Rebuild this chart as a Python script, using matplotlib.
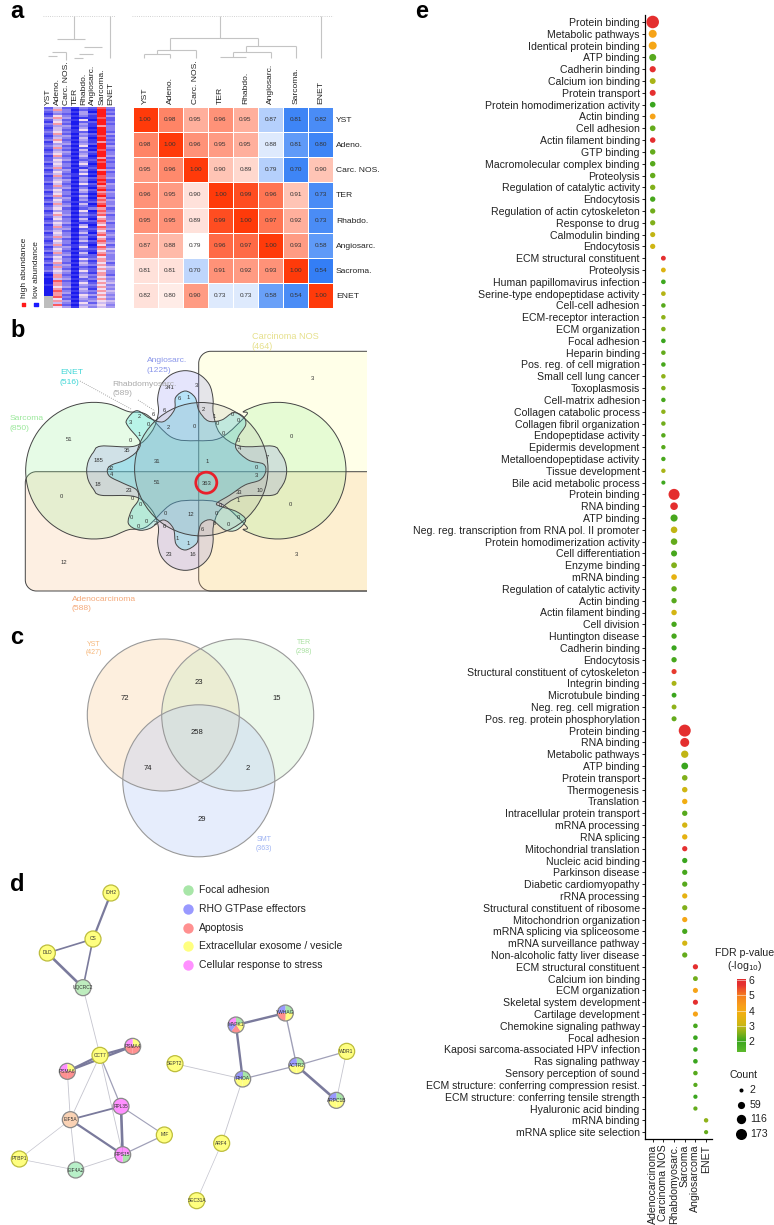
import numpy as np
import matplotlib
matplotlib.use("Agg")
import matplotlib.pyplot as plt
from matplotlib.colors import LinearSegmentedColormap, Normalize
from matplotlib.cm import ScalarMappable
from matplotlib.patches import Circle, PathPatch, Wedge
from matplotlib.path import Path

plt.rcParams['font.family'] = ['Liberation Sans', 'DejaVu Sans']

W, H = 774, 1225
TXT = '#222222'

# ---------- panel a data ----------
tumours_short = ['YST', 'Adeno.', 'Carc. NOS.', 'TER', 'Rhabdo.', 'Angiosarc.', 'Sarcoma.', 'ENET']
corr_rows = ['YST', 'Adeno.', 'Carc. NOS.', 'TER', 'Rhabdo.', 'Angiosarc.', 'Sacroma.', 'ENET']
corr_values = [
    [1.00, 0.98, 0.95, 0.96, 0.95, 0.87, 0.81, 0.82],
    [0.98, 1.00, 0.96, 0.95, 0.95, 0.88, 0.81, 0.80],
    [0.95, 0.96, 1.00, 0.90, 0.89, 0.79, 0.70, 0.90],
    [0.96, 0.95, 0.90, 1.00, 0.99, 0.96, 0.91, 0.73],
    [0.95, 0.95, 0.89, 0.99, 1.00, 0.97, 0.92, 0.73],
    [0.87, 0.88, 0.79, 0.96, 0.97, 1.00, 0.93, 0.58],
    [0.81, 0.81, 0.70, 0.91, 0.92, 0.93, 1.00, 0.54],
    [0.82, 0.80, 0.90, 0.73, 0.73, 0.58, 0.54, 1.00],
]
# colour level of each cell (scaled per column there)
corr_shade = [
    [1.00, 0.62, 0.40, 0.55, 0.40, -0.35, -0.90, -0.85],
    [0.62, 1.00, 0.55, 0.50, 0.40, -0.15, -0.75, -0.90],
    [0.50, 0.60, 1.00, 0.30, 0.20, -0.35, -0.90, 0.30],
    [0.55, 0.50, 0.15, 1.00, 0.90, 0.70, 0.30, -0.85],
    [0.55, 0.55, 0.15, 0.90, 1.00, 0.70, 0.40, -0.85],
    [0.40, 0.35, 0.00, 0.75, 0.75, 1.00, 0.50, -0.75],
    [0.15, 0.15, -0.30, 0.55, 0.50, 0.55, 1.00, -0.95],
    [0.15, 0.10, 0.50, -0.15, -0.15, -0.70, -0.85, 1.00],
]
# abundance heatmap, one string per protein row, 0 = low ... 9 = high, - = missing
abundance_rows = [
    "25213283", "37302192", "24314093", "13204292", "26313194", "47401182", "25216092", "16302293",
    "37204192", "24413173", "15304093", "25216193", "36312092", "27204294", "14413182", "25305093",
    "37214192", "16303173", "24414292", "35206094", "27312193", "14205082", "25413293", "36304193",
    "17215094", "24303172", "26412293", "35204182", "16316093", "25303193", "37211292", "14405174",
    "26303092", "35216193", "17312083", "24204284", "25414192", "36303082", "15216294", "27302173",
    "24413083", "36205292", "15314174", "26302083", "37215193", "14403072", "26304184", "35212273",
    "17305083", "25413194", "36202372", "14316083", "26303174", "37414282", "25202163", "16315073",
    "24303284", "36411172", "15204063", "27316183", "24402274", "35203162", "16315073", "25302284",
    "37414163", "24203072", "16315283", "25302174", "37213062", "14416183", "26303275", "35212163",
    "17305074", "24413283", "36202263", "15316373", "26303174", "37215262", "14404373", "27312165",
    "25203274", "36416263", "15303173", "07214372", "17305264", "05412373", "08203164", "07316275",
    "17304363", "06413274", "07205163", "08314375", "07403264", "07216473", "-8305264", "-6214373",
    "-7403465", "-5316254", "-8204463", "-6415354",
]

# ---------- panel b data ----------
venn6_counts = ['3', '341', '3', '6', '1', '6', '2', '2', '6', '3', '0', '1', '2', '0', '1', '0', '0', '0', '0', '0',
                '51', '0', '35', '0', '4', '7', '185', '31', '1', '32', '4', '0', '3', '18', '51', '363', '23', '33',
                '10', '0', '1', '0', '0', '0', '0', '0', '12', '0', '0', '0', '0', '2', '6', '0', '0', '0', '6', '1',
                '1', '23', '16', '3', '12']
venn6_sets = ['Carcinoma NOS', 'Angiosarc.', 'ENET', 'Rhabdomyosarc.', 'Sarcoma', 'Adenocarcinoma']
venn6_sizes = ['(464)', '(1225)', '(516)', '(589)', '(850)', '(588)']

# ---------- panel c data ----------
venn3_sets = ['YST', 'TER', 'SMT']
venn3_sizes = ['(427)', '(298)', '(363)']
venn3_counts = ['72', '23', '15', '258', '74', '2', '29']

# ---------- panel d data ----------
pathways = ['Focal adhesion', 'RHO GTPase effectors', 'Apoptosis', 'Extracellular exosome / vesicle',
            'Cellular response to stress']
edges = [('IDH2', 'CS', 1.6), ('CS', 'DLD', 1.2), ('CS', 'UQCRC2', 1.2), ('DLD', 'UQCRC2', 1.9),
         ('UQCRC2', 'CCT7', 0.6), ('CCT7', 'PSMA4', 1.6), ('PSMA6', 'PSMA4', 1.6), ('CCT7', 'PSMA6', 1.6),
         ('CCT7', 'RPL35', 0.9), ('CCT7', 'EIF5A', 0.6), ('CCT7', 'RPS15', 0.6), ('PSMA6', 'EIF5A', 0.6),
         ('EIF5A', 'RPL35', 1.3), ('EIF5A', 'RPS15', 1.6), ('EIF5A', 'EIF4A2', 0.6), ('EIF5A', 'PTBP1', 0.5),
         ('PTBP1', 'EIF4A2', 0.5), ('EIF4A2', 'RPS15', 0.6), ('RPL35', 'RPS15', 1.9), ('RPL35', 'MIF', 0.8),
         ('RPS15', 'MIF', 0.9), ('SEPT2', 'RHOA', 0.6), ('RHOA', 'MAPK1', 1.7), ('MAPK1', 'YWHAG', 1.7),
         ('YWHAG', 'ACTR2', 1.0), ('RHOA', 'ACTR2', 0.9), ('ACTR2', 'WDR1', 0.9), ('ACTR2', 'ARPC1B', 1.9),
         ('WDR1', 'ARPC1B', 0.6), ('RHOA', 'ARF4', 0.6), ('ARF4', 'SEC31A', 0.5)]

# ---------- panel e data ----------
dot_columns = ['Adenocarcinoma', 'Carcinoma NOS', 'Rhabdomyosarc.', 'Sarcoma', 'Angiosarcoma', 'ENET']
terms_adeno = ['Protein binding', 'Metabolic pathways', 'Identical protein binding', 'ATP binding', 'Cadherin binding',
               'Calcium ion binding', 'Protein transport', 'Protein homodimerization activity', 'Actin binding',
               'Cell adhesion', 'Actin filament binding', 'GTP binding', 'Macromolecular complex binding',
               'Proteolysis', 'Regulation of catalytic activity', 'Endocytosis', 'Regulation of actin cytoskeleton',
               'Response to drug', 'Calmodulin binding', 'Endocytosis']
fdr_adeno = [5.9, 4.2, 4.1, 2.2, 5.7, 2.8, 5.7, 2.0, 4.2, 2.3, 5.8, 2.3, 2.2, 2.3, 2.5, 2.1, 2.4, 2.5, 3.0, 3.1]
count_adeno = [230, 79, 79, 55, 38, 32, 34, 28, 30, 28, 25, 24, 24, 24, 22, 22, 20, 20, 18, 20]

terms_nos = ['ECM structural constituent', 'Proteolysis', 'Human papillomavirus infection',
             'Serine-type endopeptidase activity', 'Cell-cell adhesion', 'ECM-receptor interaction', 'ECM organization',
             'Focal adhesion', 'Heparin binding', 'Pos. reg. of cell migration', 'Small cell lung cancer',
             'Toxoplasmosis', 'Cell-matrix adhesion', 'Collagen catabolic process', 'Collagen fibril organization',
             'Endopeptidase activity', 'Epidermis development', 'Metalloendopeptidase activity', 'Tissue development',
             'Bile acid metabolic process']
fdr_nos = [5.8, 3.4, 1.9, 2.9, 2.2, 2.6, 2.5, 2.0, 2.3, 2.1, 2.6, 2.5, 2.1, 2.6, 2.4, 2.2, 2.2, 2.1, 2.8, 1.9]
count_nos = [14, 13, 11, 11, 9, 9, 9, 10, 9, 9, 9, 9, 8, 8, 8, 8, 7, 7, 7, 3]

terms_rhabdo = ['Protein binding', 'RNA binding', 'ATP binding', 'Neg. reg. transcription from RNA pol. II promoter',
                'Protein homodimerization activity', 'Cell differentiation', 'Enzyme binding', 'mRNA binding',
                'Regulation of catalytic activity', 'Actin binding', 'Actin filament binding', 'Cell division',
                'Huntington disease', 'Cadherin binding', 'Endocytosis', 'Structural constituent of cytoskeleton',
                'Integrin binding', 'Microtubule binding', 'Neg. reg. cell migration', 'Pos. reg. protein phosphorylation']
fdr_rhabdo = [5.9, 5.8, 2.1, 3.0, 2.3, 2.1, 2.5, 3.6, 2.3, 2.2, 3.2, 2.1, 2.1, 2.0, 2.1, 5.6, 2.8, 2.0, 2.6, 2.3]
count_rhabdo = [173, 70, 58, 45, 45, 35, 30, 28, 24, 22, 24, 22, 22, 20, 22, 18, 16, 14, 15, 17]

terms_sarcoma = ['Protein binding', 'RNA binding', 'Metabolic pathways', 'ATP binding', 'Protein transport',
                 'Thermogenesis', 'Translation', 'Intracellular protein transport', 'mRNA processing', 'RNA splicing',
                 'Mitochondrial translation', 'Nucleic acid binding', 'Parkinson disease', 'Diabetic cardiomyopathy',
                 'rRNA processing', 'Structural constituent of ribosome', 'Mitochondrion organization',
                 'mRNA splicing via spliceosome', 'mRNA surveillance pathway', 'Non-alcoholic fatty liver disease']
fdr_sarcoma = [5.9, 5.8, 3.0, 2.0, 2.5, 3.1, 3.9, 2.2, 3.2, 3.6, 5.7, 2.0, 2.1, 2.2, 3.6, 2.5, 4.1, 2.1, 3.2, 2.3]
count_sarcoma = [208, 106, 62, 50, 26, 24, 22, 22, 22, 22, 20, 20, 20, 20, 20, 20, 20, 20, 20, 20]

terms_angio = ['ECM structural constituent', 'Calcium ion binding', 'ECM organization', 'Skeletal system development',
               'Cartilage development', 'Chemokine signaling pathway', 'Focal adhesion',
               'Kaposi sarcoma-associated HPV infection', 'Ras signaling pathway', 'Sensory perception of sound',
               'ECM structure: conferring compression resist.', 'ECM structure: conferring tensile strength',
               'Hyaluronic acid binding']
fdr_angio = [5.8, 2.4, 4.2, 5.8, 4.2, 2.1, 2.0, 2.0, 2.0, 2.2, 2.2, 2.0, 2.3]
count_angio = [20, 14, 18, 18, 18, 10, 10, 9, 10, 9, 5, 5, 5]

terms_enet = ['mRNA binding', 'mRNA splice site selection']
fdr_enet = [2.6, 2.3]
count_enet = [8, 4]

count_legend = [2, 59, 116, 173]
fdr_ticks = [2, 3, 4, 5, 6]


def px_axes(x, y, w, h, **kw):
    return fig.add_axes([x / W, 1 - (y + h) / H, w / W, h / H], **kw)


def dot_area(count):
    # area grows linear with count, given in pt^2 (fitted to the count legend)
    d2 = 15 + 0.62 * np.asarray(count, dtype=float)
    return d2 * 0.72 ** 2


def smooth_closed(pts):
    # closed Catmull-Rom curve through the points
    pts = np.asarray(pts, dtype=float)
    n = len(pts)
    verts = [pts[0]]
    codes = [Path.MOVETO]
    for i in range(n):
        p0, p1, p2, p3 = pts[(i - 1) % n], pts[i], pts[(i + 1) % n], pts[(i + 2) % n]
        verts += [p1 + (p2 - p0) / 6, p2 - (p3 - p1) / 6, p2]
        codes += [Path.CURVE4] * 3
    return Path(verts, codes)


def arc(cx, cy, r, a0, a1, n=10):
    t = np.radians(np.linspace(a0, a1, n))
    return [(cx + r * np.cos(v), cy + r * np.sin(v)) for v in t]


def open_box(x, top, right, bottom, r):
    k = r * 0.45
    verts = [(right, top), (x + r, top), (x + k, top), (x, top + k), (x, top + r),
             (x, bottom - r), (x, bottom - k), (x + k, bottom), (x + r, bottom), (right, bottom)]
    codes = [Path.MOVETO, Path.LINETO, Path.CURVE4, Path.CURVE4, Path.CURVE4,
             Path.LINETO, Path.CURVE4, Path.CURVE4, Path.CURVE4, Path.LINETO]
    return Path(verts, codes)


fig = plt.figure(figsize=(W / 100, H / 100), dpi=100)
page = fig.add_axes([0, 0, 1, 1])
page.set_xlim(0, W)
page.set_ylim(H, 0)
page.axis('off')

for letter, lx, ly in [('a', 10, 18), ('b', 10, 337), ('c', 10, 644), ('d', 10, 891), ('e', 415, 18)]:
    page.text(lx, ly, letter, fontsize=17, fontweight='bold', color='black', va='baseline')

# ---------- a: abundance heatmap ----------
abundance = np.array([[np.nan if c == '-' else int(c) / 9 for c in row] for row in abundance_rows])
bwr = LinearSegmentedColormap.from_list('abund', ['#1A1AEE', '#8A80F0', '#F2DCF0', '#FF1A1A'])
bwr.set_bad('#BDBDBD')
ax_abund = px_axes(44.3, 107, 70.7, 201)
ax_abund.imshow(abundance, cmap=bwr, vmin=0, vmax=1, aspect='auto', interpolation='nearest')
ax_abund.set_xticks(range(8))
ax_abund.set_xticklabels(tumours_short, rotation=90, fontsize=6.1, color=TXT)
ax_abund.xaxis.tick_top()
ax_abund.tick_params(length=0, pad=1.5)
ax_abund.set_yticks([])
for s in ax_abund.spines.values():
    s.set_visible(False)

# ---------- a: correlation matrix ----------
corr_cmap = LinearSegmentedColormap.from_list('corr', ['#2A78F5', '#FFFFFF', '#FF3A0A'])
ax_corr = px_axes(132.7, 107, 200.5, 201)
ax_corr.pcolormesh(np.array(corr_shade), cmap=corr_cmap, vmin=-1, vmax=1, edgecolors='#FFFFFF', linewidth=0.5, alpha=1)
ax_corr.set_xlim(0, 8)
ax_corr.set_ylim(8, 0)
for i, row in enumerate(corr_values):
    for j, v in enumerate(row):
        ax_corr.text(j + 0.5, i + 0.5, f'{v:.2f}', ha='center', va='center', fontsize=4.6, color='#333333')
ax_corr.set_xticks(np.arange(8) + 0.5)
ax_corr.set_xticklabels(tumours_short, rotation=90, fontsize=6.1, color=TXT)
ax_corr.xaxis.tick_top()
ax_corr.yaxis.tick_right()
ax_corr.set_yticks(np.arange(8) + 0.5)
ax_corr.set_yticklabels(corr_rows, fontsize=6.1, color=TXT)
ax_corr.tick_params(length=0, pad=2)
for s in ax_corr.spines.values():
    s.set_visible(False)

# dendrograms, segments in page pixels
GREY = '#C4C4C4'
page.plot([43, 115], [16, 16], color=GREY, lw=0.6, ls=':')
page.plot([132, 333], [16, 16], color=GREY, lw=0.6, ls=':')
tree_right = [((220, 16), (220, 38)), ((170, 38), (258, 38)), ((170, 38), (170, 50)), ((157, 50), (196, 50)),
              ((157, 50), (157, 54)), ((144, 54), (170, 54)), ((144, 54), (144, 58)), ((170, 54), (170, 58)),
              ((196, 50), (196, 58)), ((258, 38), (258, 46)), ((246, 46), (296, 46)), ((296, 46), (296, 58)),
              ((246, 46), (246, 52)), ((233, 52), (271, 52)), ((271, 52), (271, 58)), ((233, 52), (233, 57)),
              ((220, 57), (246, 57)), ((321, 16), (321, 58))]
tree_left = [((74, 16), (74, 39)), ((57, 39), (85, 39)), ((84, 47), (102, 47)), ((52, 52), (66, 52)),
             ((66, 52), (66, 60)), ((79, 54), (93, 54)), ((48, 56), (57, 56)), ((74, 58), (83, 58)),
             ((110, 16), (110, 58))]
for a, b in tree_right + tree_left:
    page.plot([a[0], b[0]], [a[1], b[1]], color=GREY, lw=0.8, solid_capstyle='butt')

page.scatter([23.5, 36], [304.5, 304.5], s=7, marker='s', c=['#FF1A1A', '#1A1AFF'])
page.text(24, 298, 'high abundance', rotation=90, fontsize=6, color=TXT, ha='center', va='bottom')
page.text(36, 298, 'low abundance', rotation=90, fontsize=6, color=TXT, ha='center', va='bottom')

# ---------- b: six set venn ----------
B = np.array([0, 320])
LINE = '#444444'
carcinoma = open_box(198.7, 351.3, 367, 591, 12)
adeno = open_box(25.3, 471.7, 367, 591, 11)
page.add_patch(PathPatch(carcinoma, facecolor='#FFFF90', alpha=0.2, lw=0))
page.add_patch(PathPatch(carcinoma, fill=False, edgecolor=LINE, lw=0.7))
page.add_patch(PathPatch(adeno, facecolor='#F8B070', alpha=0.2, lw=0))
page.add_patch(PathPatch(adeno, fill=False, edgecolor=LINE, lw=0.7))

sarcoma_pts = (arc(282, 452, 205, 300, 60, 15) +
               [(440, 620), (515, 552), (590, 541), (665, 552), (740, 620)] +
               arc(833, 452, 205, 120, -120, 15) +
               [(740, 284), (665, 352), (590, 362), (515, 352), (440, 284)])
angio_pts = (arc(556, 235, 83, 180, 360, 7) +
             [(640, 280), (660, 340), (720, 378)] +
             arc(775, 452, 85, -60, 60, 7) +
             [(720, 530), (660, 570), (640, 620)] +
             arc(556, 668, 83, 0, 180, 7) +
             [(475, 620), (455, 570), (405, 530)] +
             arc(345, 452, 85, 120, 240, 7) +
             [(405, 378), (455, 335), (475, 280)])
enet_pts = [(556, 213), (585, 232), (597, 272), (625, 303), (665, 300), (700, 278), (730, 290), (737, 315), (715, 350),
            (708, 385), (745, 420), (790, 432), (797, 455), (780, 480), (735, 495), (690, 525), (650, 550), (665, 560),
            (710, 575), (737, 600), (710, 630), (675, 630), (635, 600), (605, 610), (595, 640), (590, 670), (556, 690),
            (528, 672), (520, 625), (490, 600), (450, 625), (415, 630), (385, 610), (395, 570), (415, 540), (410, 510),
            (370, 490), (330, 470), (322, 450), (335, 435), (375, 420), (410, 395), (420, 365), (385, 320), (380, 300),
            (410, 272), (450, 295), (490, 305), (523, 270), (527, 232)]
for pts, col, a in [(sarcoma_pts, '#90EE90', 0.22), (angio_pts, '#7070F0', 0.18), (enet_pts, '#30E0F0', 0.25)]:
    path = smooth_closed(np.array(pts) / 3 + B)
    page.add_patch(PathPatch(path, facecolor=col, alpha=a, lw=0))
    page.add_patch(PathPatch(path, fill=False, edgecolor=LINE, lw=0.7))
page.add_patch(Circle((201.3, 469.2), 66.7, facecolor='#808080', alpha=0.12, lw=0))
page.add_patch(Circle((201.3, 469.2), 66.7, fill=False, edgecolor=LINE, lw=0.7))

page.plot([80, 131], [381, 409], color='#888888', lw=0.6, ls=':')
page.plot([138, 155], [400, 411], color='#888888', lw=0.6, ls=':')

venn6_count_xy = [(936, 176), (510, 203), (588, 197), (538, 236), (564, 233), (492, 272), (609, 268), (418, 288),
                  (460, 285), (391, 307), (446, 312), (417, 343), (504, 323), (583, 318), (643, 288), (697, 284),
                  (652, 311), (716, 303), (670, 340), (875, 348), (208, 358), (391, 363), (380, 393), (714, 362),
                  (720, 385), (803, 412), (294, 420), (470, 424), (621, 424), (333, 444), (333, 463), (770, 443),
                  (770, 466), (295, 495), (470, 488), (619, 490), (388, 511), (717, 516), (780, 510), (398, 537),
                  (714, 540), (185, 531), (870, 554), (420, 555), (660, 557), (497, 580), (574, 582), (650, 580),
                  (394, 593), (714, 593), (440, 605), (466, 610), (492, 621), (415, 618), (642, 610), (685, 615),
                  (607, 628), (531, 655), (565, 670), (507, 702), (580, 702), (889, 703), (191, 726)]
for txt, (zx, zy) in zip(venn6_counts, venn6_count_xy):
    page.text(zx / 3, 320 + zy / 3, txt, fontsize=4.2, color='#333333', ha='center', va='center')
page.add_patch(Circle((206.3, 482.7), 10.5, fill=False, edgecolor='#E8202A', lw=2))

venn6_label_xy = [(755, 50), (440, 122), (180, 158), (338, 192), (28, 297), (215, 838)]
venn6_label_col = ['#E6E08C', '#8A96EA', '#3FD6D6', '#AAAAAA', '#9BE89B', '#F4A878']
venn6_label_fs = [6.6, 6.1, 6.1, 6.1, 6.1, 6.1]
for name, size, (zx, zy), col, fs in zip(venn6_sets, venn6_sizes, venn6_label_xy, venn6_label_col, venn6_label_fs):
    page.text(zx / 3, 320 + zy / 3, name, fontsize=fs, color=col, va='center')
    page.text(zx / 3, 320 + (zy + 29) / 3, size, fontsize=fs, color=col, va='center')

# ---------- c: three set venn ----------
venn3_circles = [((163.3, 715), '#FBD09A'), ((237.7, 715), '#C6EBBE'), ((198.8, 780.8), '#B4C8F8')]
for (cxy, col) in venn3_circles:
    page.add_patch(Circle(cxy, 76, facecolor=col, alpha=0.32, lw=0))
for (cxy, col) in venn3_circles:
    page.add_patch(Circle(cxy, 76, fill=False, edgecolor='#999999', lw=0.8))
venn3_count_xy = [(374, 237), (595, 188), (830, 234), (592, 336), (445, 445), (744, 445), (606, 598)]
for txt, (zx, zy) in zip(venn3_counts, venn3_count_xy):
    page.text(zx / 3, 620 + zy / 3, txt, fontsize=5.5, color=TXT, ha='center', va='center')
venn3_label_xy = [(280, 72), (912, 68), (792, 658)]
venn3_label_col = ['#F6B77A', '#A8E0A0', '#9DB2F2']
for name, size, (zx, zy), col in zip(venn3_sets, venn3_sizes, venn3_label_xy, venn3_label_col):
    page.text(zx / 3, 620 + zy / 3, name, fontsize=5, color=col, ha='center', va='center')
    page.text(zx / 3, 620 + (zy + 27) / 3, size, fontsize=5, color=col, ha='center', va='center')

# ---------- d: network ----------
YEL, GRN, BLU, RED, MAG = '#FFFF80', '#A8E6A8', '#9999FF', '#FF9090', '#FF90FF'
node_xy = {'IDH2': (333, 69), 'CS': (279, 207), 'DLD': (142, 249), 'UQCRC2': (249, 353), 'CCT7': (300, 556),
           'PSMA4': (398, 529), 'PSMA6': (202, 604), 'RPL35': (363, 709), 'EIF5A': (211, 749), 'MIF': (493, 795),
           'RPS15': (368, 854), 'EIF4A2': (227, 900), 'PTBP1': (58, 867), 'SEPT2': (525, 581), 'RHOA': (728, 627),
           'ACTR2': (890, 587), 'ARPC1B': (1009, 691), 'WDR1': (1040, 544), 'YWHAG': (856, 429), 'MAPK1': (708, 465),
           'ARF4': (665, 820), 'SEC31A': (590, 992)}
# slices start at the top and go clockwise
node_slices = {'UQCRC2': ['#BEEDBE'], 'EIF4A2': ['#B8F0C8'], 'EIF5A': ['#FAD2B4'], 'RPL35': [MAG],
               'PSMA4': [YEL, RED, RED, MAG], 'PSMA6': [YEL, RED, RED, MAG],
               'RPS15': [MAG, GRN, MAG, MAG], 'RHOA': [GRN, YEL, YEL, BLU], 'ACTR2': [GRN, YEL, YEL, BLU],
               'ARPC1B': [GRN, YEL, YEL, BLU], 'YWHAG': [GRN, YEL, RED, BLU],
               'MAPK1': [GRN, YEL, RED, BLU, MAG]}
page_d = np.array([0, 870])
for a, b, lw in edges:
    pa = np.array(node_xy[a]) / 3 + page_d
    pb = np.array(node_xy[b]) / 3 + page_d
    col = '#7A7A9C' if lw >= 1.2 else ('#A0A0B8' if lw >= 0.8 else '#C4C4CE')
    page.plot([pa[0], pb[0]], [pa[1], pb[1]], color=col, lw=lw, solid_capstyle='round', zorder=3)
for name, zxy in node_xy.items():
    cxy = np.array(zxy) / 3 + page_d
    slices = node_slices.get(name, [YEL])
    n = len(slices)
    for k, col in enumerate(slices):
        # y axis of the page runs down, so clockwise from the top is increasing angle from -90
        page.add_patch(Wedge(cxy, 8, -90 + 360 * k / n, -90 + 360 * (k + 1) / n, facecolor=col, lw=0, zorder=4))
    rim = '#BDBD3C' if slices == [YEL] else '#8A8A8A'
    page.add_patch(Circle(cxy, 8, fill=False, edgecolor=rim, lw=0.9, zorder=5))
    page.text(cxy[0], cxy[1], name, fontsize=3.5, color='#333333', ha='center', va='center', zorder=6)
legend_d_col = [GRN, BLU, RED, YEL, MAG]
for i, (name, col) in enumerate(zip(pathways, legend_d_col)):
    y = 870 + (61 + 56 * i) / 3
    page.scatter([187.7], [y], s=56, color=col, linewidths=0, zorder=4)
    page.text(198.7, y, name, fontsize=7.5, color=TXT, va='center')

# ---------- e: enrichment dots ----------
groups = [(terms_adeno, fdr_adeno, count_adeno), (terms_nos, fdr_nos, count_nos), (terms_rhabdo, fdr_rhabdo, count_rhabdo),
          (terms_sarcoma, fdr_sarcoma, count_sarcoma), (terms_angio, fdr_angio, count_angio), (terms_enet, fdr_enet, count_enet)]
f_lo, f_hi = 1.28, 6.08
stops = [(1.28, '#5CB82C'), (2.0, '#3AA51E'), (2.6, '#8FB21A'), (3.1, '#CFB613'), (3.8, '#F0B010'),
         (4.3, '#F8A01A'), (5.0, '#F57F20'), (5.7, '#E53030'), (6.08, '#E32D2D')]
fdr_cmap = LinearSegmentedColormap.from_list('fdr', [((v - f_lo) / (f_hi - f_lo), c) for v, c in stops])
fdr_norm = Normalize(f_lo, f_hi)

ax_dot = px_axes(645.3, 15, 66.7, 1124)
labels = []
row = 0
for col_idx, (terms, fdr, count) in enumerate(groups):
    rows = np.arange(row, row + len(terms))
    ax_dot.scatter([col_idx] * len(terms), rows, s=dot_area(count), c=fdr, cmap=fdr_cmap, norm=fdr_norm,
                   linewidths=0, clip_on=False, zorder=3)
    labels += terms
    row += len(terms)
ax_dot.set_ylim((1139 - 22) / 11.81, (15 - 22) / 11.81)
ax_dot.set_xlim((645.3 - 652.7) / 10.68, (712 - 652.7) / 10.68)
ax_dot.set_yticks(range(len(labels)))
ax_dot.set_yticklabels(labels, fontsize=7.6, color=TXT)
ax_dot.set_xticks(range(len(dot_columns)))
ax_dot.set_xticklabels(dot_columns, rotation=90, fontsize=7.6, color=TXT)
ax_dot.tick_params(length=2, width=0.7, pad=2, color='#222222')
ax_dot.spines['top'].set_visible(False)
ax_dot.spines['right'].set_visible(False)
ax_dot.spines['left'].set_linewidth(0.9)
ax_dot.spines['bottom'].set_linewidth(0.9)
ax_dot.patch.set_alpha(0)

# colour bar and count legend
cax = px_axes(736.7, 979, 9, 73)
cbar = fig.colorbar(ScalarMappable(norm=fdr_norm, cmap=fdr_cmap), cax=cax)
cbar.set_ticks(fdr_ticks)
cbar.outline.set_visible(False)
cbar.ax.tick_params(length=0, labelsize=7.6, pad=2, labelcolor=TXT)
for t in fdr_ticks:
    cax.plot([0, 1], [t, t], color='white', lw=0.5, alpha=0.7, transform=cax.get_yaxis_transform())
page.text(745, 953, 'FDR p-value', fontsize=7.6, color=TXT, ha='center', va='center')
page.text(745, 966, r'(-log$_{10}$)', fontsize=7.6, color=TXT, ha='center', va='center')
page.text(743.5, 1075, 'Count', fontsize=7.6, color=TXT, ha='center', va='center')
for i, c in enumerate(count_legend):
    y = 1090 + 14.6 * i
    page.scatter([741], [y], s=dot_area(c), color='black', linewidths=0)
    page.text(750, y, str(c), fontsize=7.6, color=TXT, va='center')

fig.savefig('out.png', dpi=100)
